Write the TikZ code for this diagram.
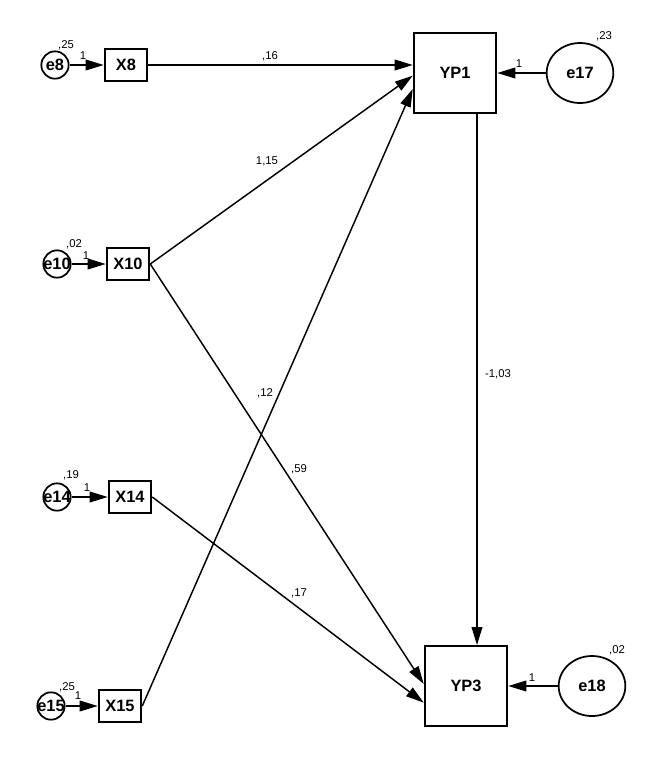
\documentclass[tikz,border=0pt]{standalone}
\usepackage{fontspec}
\setmainfont{Liberation Sans}
\usetikzlibrary{arrows.meta,shapes.geometric}
\tikzset{
  obsbox/.style={draw=black, line width=1.4pt, minimum width=32pt, minimum height=24.5pt, inner sep=0pt, font=\fontsize{12.3}{14}\selectfont\bfseries},
  bigbox/.style={obsbox, minimum width=62pt, minimum height=60pt},
  err/.style={draw=black, line width=1.3pt, circle, minimum size=20.5pt, inner sep=0pt, font=\fontsize{12.3}{14}\selectfont\bfseries},
  bigerr/.style={err, ellipse, minimum width=50pt, minimum height=45pt},
  reg/.style={line width=1.1pt, -{Triangle[length=13.5pt,width=8pt]}},
  coef/.style={inner sep=0pt, font=\fontsize{8.5}{10}\selectfont}
}
\newcommand{\zw}[1]{\makebox[0pt]{#1}}

\begin{document}
\begin{tikzpicture}[x=0.75pt,y=-0.75pt]
  \useasboundingbox (0,0) rectangle (646,765);
  % observed variables
  \node[obsbox] (x8) at (126,65) {X8};
  \node[obsbox] (x10) at (128,264) {X10};
  \node[obsbox] (x14) at (130,497) {X14};
  \node[obsbox] (x15) at (120,706) {X15};
  \node[bigbox] (yp1) at (455,73) {YP1};
  \node[bigbox] (yp3) at (466,686) {YP3};
  % error terms
  \node[err] (e8) at (55,65) {\zw{e8}};
  \node[err] (e10) at (57,264) {\zw{e10}};
  \node[err] (e14) at (57,497) {\zw{e14}};
  \node[err] (e15) at (51,706) {\zw{e15}};
  \node[bigerr] (e17) at (580,73) {e17};
  \node[bigerr] (e18) at (592,686) {e18};
  % error paths
  \draw[reg] (e8) -- (x8);
  \draw[reg] (e10) -- (x10);
  \draw[reg] (e14) -- (x14);
  \draw[reg] (e15) -- (x15);
  \draw[reg] (e17) -- (yp1);
  \draw[reg] (e18) -- (yp3);
  % structural paths
  \draw[reg] (x8.east) -- (x8.east -| yp1.west);
  \draw[reg] (x10.east) -- ([yshift=-2pt]yp1.west);
  \draw[reg] (x15.east) -- ([yshift=-12pt]yp1.west);
  \draw[reg] (x10.east) -- ([yshift=1.5pt]yp3.west);
  \draw[reg] (x14.east) -- ([yshift=-12.5pt]yp3.west);
  \draw[reg] ([xshift=16.5pt]yp1.south) -- ([xshift=16.5pt]yp1.south |- yp3.north);
  % variances
  \node[coef] (v8) at (66,45) {,25};
  \node[coef] (v10) at (74,244) {,02};
  \node[coef] (v14) at (71,475) {,19};
  \node[coef] (v15) at (67,687) {,25};
  \node[coef] (v17) at (604,36) {,23};
  \node[coef] (v18) at (617,650) {,02};
  % fixed loadings
  \node[coef] (l8) at (83,56) {1};
  \node[coef] (l10) at (86,256) {1};
  \node[coef] (l14) at (87,488) {1};
  \node[coef] (l15) at (78,696) {1};
  \node[coef] (l17) at (519,64) {1};
  \node[coef] (l18) at (532,678) {1};
  % estimates
  \node[coef] (b1) at (270,56) {,16};
  \node[coef] (b2) at (267,161) {1,15};
  \node[coef] (b3) at (265,393) {,12};
  \node[coef] (b4) at (299,469) {,59};
  \node[coef] (b5) at (299,593) {,17};
  \node[coef] (b6) at (498,374) {-1,03};
\end{tikzpicture}
\end{document}
